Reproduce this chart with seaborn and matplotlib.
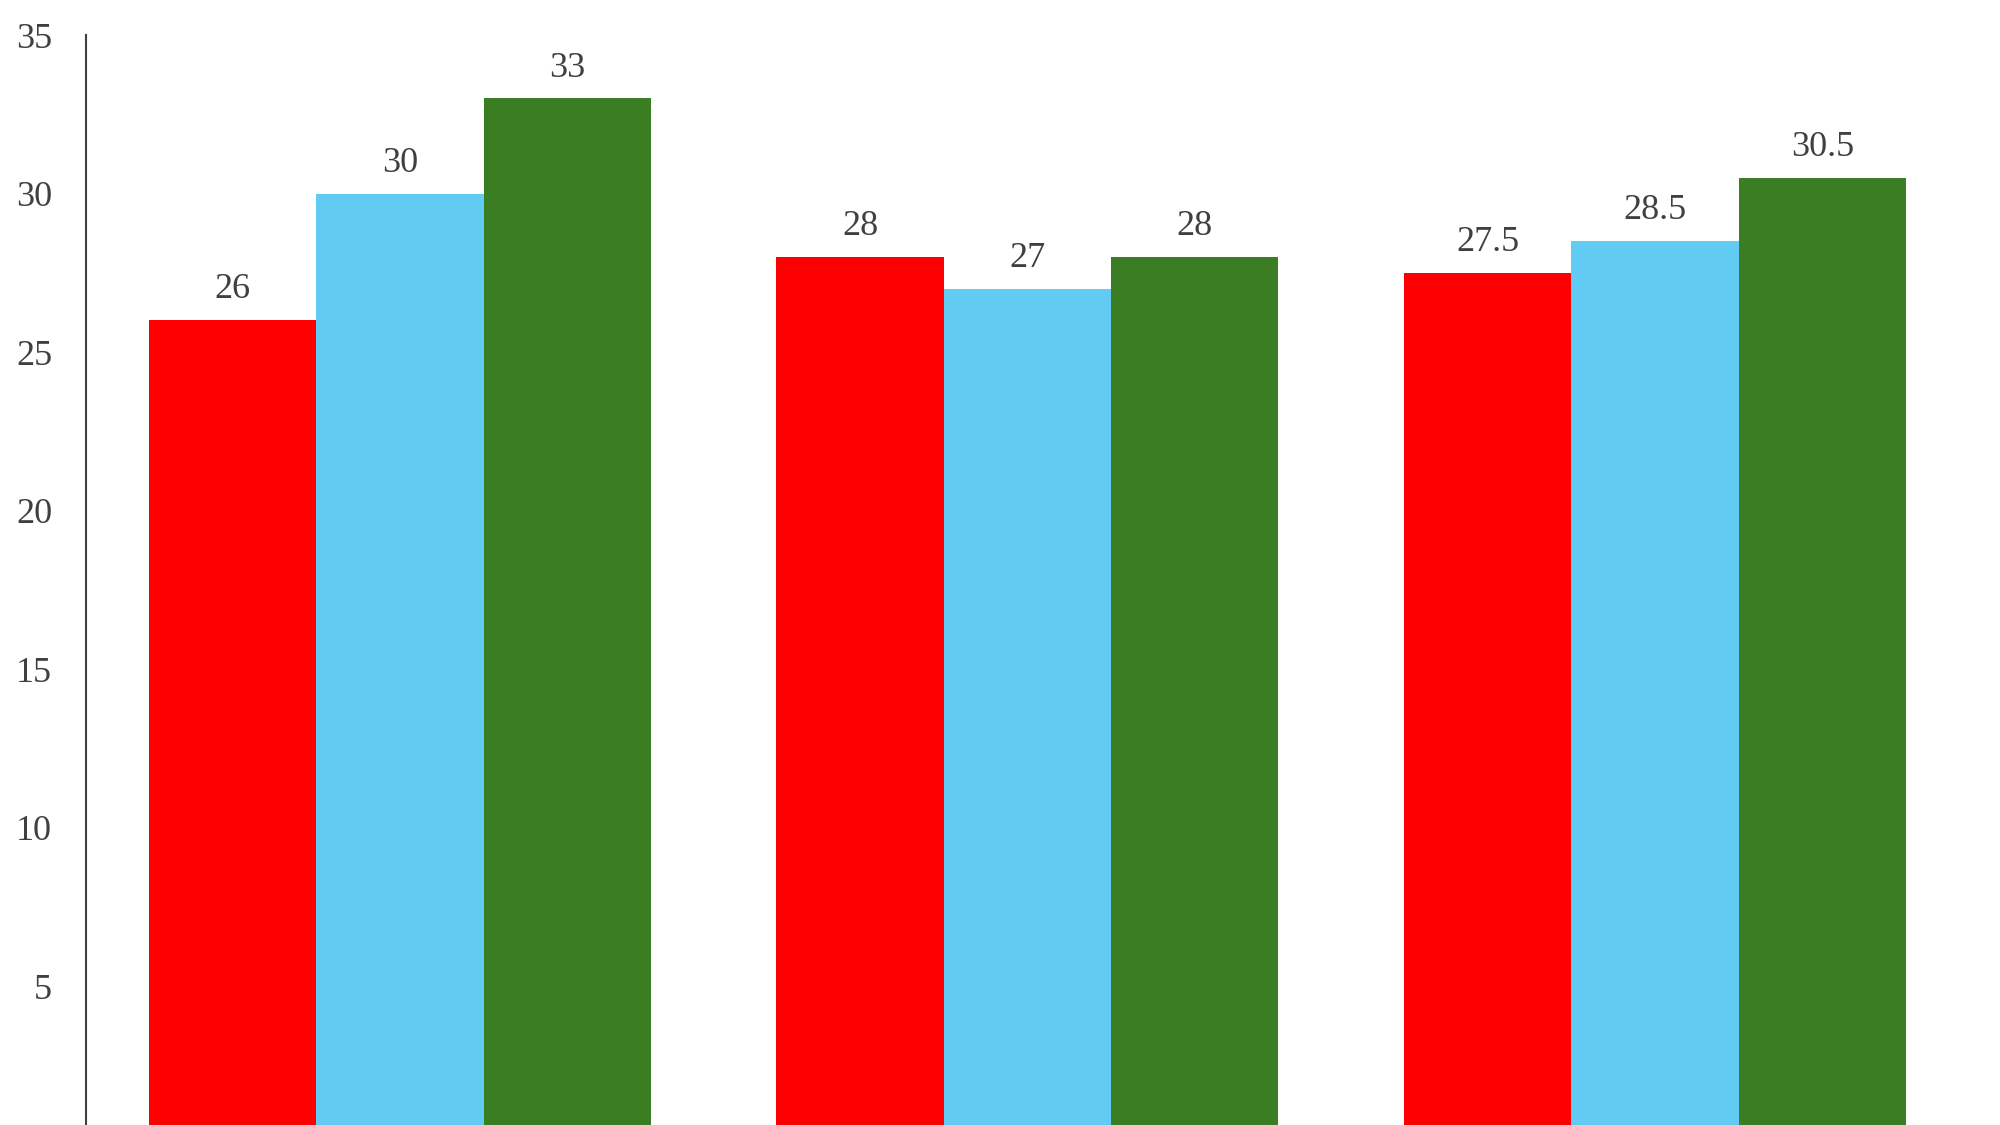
import matplotlib
matplotlib.use("Agg")
import matplotlib.pyplot as plt
import pandas as pd
import seaborn as sns

# values
groups = ["Group 1", "Group 2", "Group 3"]
series = ["Series 1", "Series 2", "Series 3"]
series_1 = [26, 28, 27.5]
series_2 = [30, 27, 28.5]
series_3 = [33, 28, 30.5]
colors = ["#FF0000", "#62CBF3", "#3B7D23"]
yticks = [5, 10, 15, 20, 25, 30, 35]

df = pd.DataFrame({
    "group": groups * 3,
    "series": [s for s in series for _ in groups],
    "value": series_1 + series_2 + series_3,
})

sns.set_theme(style="white")
plt.rcParams["font.family"] = ["Liberation Serif", "DejaVu Serif"]
text_color = "#404040"

fig = plt.figure(figsize=(20, 11.25), dpi=100)
ax = fig.add_axes([85.5 / 2000, 0, 1 - 85.5 / 2000, 1 - 35 / 1125])

sns.barplot(data=df, x="group", y="value", hue="series", palette=colors,
            width=0.8, saturation=1, linewidth=0, ax=ax, legend=False)

for cont in ax.containers:
    ax.bar_label(cont, fmt="%g", padding=10, fontsize=26, color=text_color)

ax.set_xlim(-0.501, 2.55)
ax.set_ylim(0.62, 35)
ax.set_yticks(yticks)
ax.tick_params(axis="y", length=0, pad=24, labelsize=26, labelcolor=text_color)
ax.set_xticks([])
ax.set_xlabel("")
ax.set_ylabel("")

for side in ["top", "right", "bottom"]:
    ax.spines[side].set_visible(False)
ax.spines["left"].set_color(text_color)
ax.spines["left"].set_linewidth(1.5)

fig.savefig("out.png", dpi=100)
